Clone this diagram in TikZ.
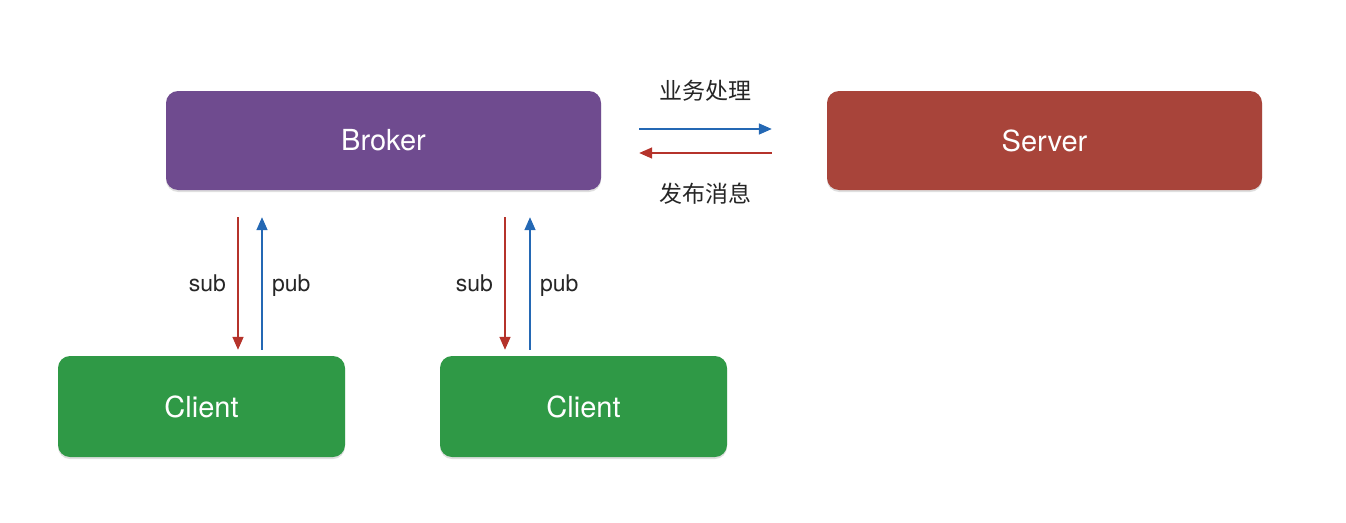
\documentclass[tikz,border=0pt]{standalone}
\usepackage{fontspec}
\setmainfont{TeX Gyre Heros}
\newfontfamily\cjk{Noto Sans CJK SC}
\usetikzlibrary{arrows.meta,shadows}
\definecolor{brokerpurple}{HTML}{6F4B8F}
\definecolor{serverred}{HTML}{A8443A}
\definecolor{clientgreen}{HTML}{2F9946}
\definecolor{pubblue}{HTML}{2468B4}
\definecolor{subred}{HTML}{B5332B}
\tikzset{x=1pt,y=-1pt,
    box/.style={rounded corners=12pt,text=white,font=\fontsize{29}{30}\selectfont,
        drop shadow={opacity=0.25,shadow xshift=0pt,shadow yshift=-2pt}},
    bigbox/.style={box,minimum width=435pt,minimum height=99pt},
    smallbox/.style={box,minimum width=287pt,minimum height=101pt},
    flow/.style={line width=1.6pt,-{Triangle[length=13pt,width=11pt]}},
    publine/.style={flow,pubblue},
    subline/.style={flow,subred},
    lbl/.style={text=black!85,font=\fontsize{23}{24}\selectfont},
    }
\begin{document}
\begin{tikzpicture}
\useasboundingbox (0,0) rectangle (1346,522);
\node[bigbox,fill=brokerpurple] (broker) at (383.5,140.5) {Broker};
\node[bigbox,fill=serverred] (server) at (1044.5,140.5) {Server};
\node[smallbox,fill=clientgreen] (clienta) at (201.5,406.5) {Client};
\node[smallbox,fill=clientgreen] (clientb) at (583.5,406.5) {Client};
% broker <-> server
\draw[publine] ([shift={(38pt,11.5pt)}]broker.east) -- ([shift={(-55pt,11.5pt)}]server.west)
    node[lbl,midway,above=24pt] (biz) {\cjk 业务处理};
\draw[subline] ([shift={(-55pt,-12.5pt)}]server.west) -- ([shift={(38pt,-12.5pt)}]broker.east)
    node[lbl,midway,below=26pt] (msg) {\cjk 发布消息};
% clients <-> broker
\foreach \c/\s/\p in {clienta/238/262,clientb/505/530}{
  \coordinate (s) at (\s,0);
  \coordinate (p) at (\p,0);
  \draw[subline] ([yshift=-27pt]broker.south -| s) -- ([yshift=6pt]\c.north -| s)
      node[lbl,midway,left=8pt] {sub};
  \draw[publine] ([yshift=6pt]\c.north -| p) -- ([yshift=-27pt]broker.south -| p)
      node[lbl,midway,right=6pt,yshift=-2pt] {pub};
}
\end{tikzpicture}
\end{document}
